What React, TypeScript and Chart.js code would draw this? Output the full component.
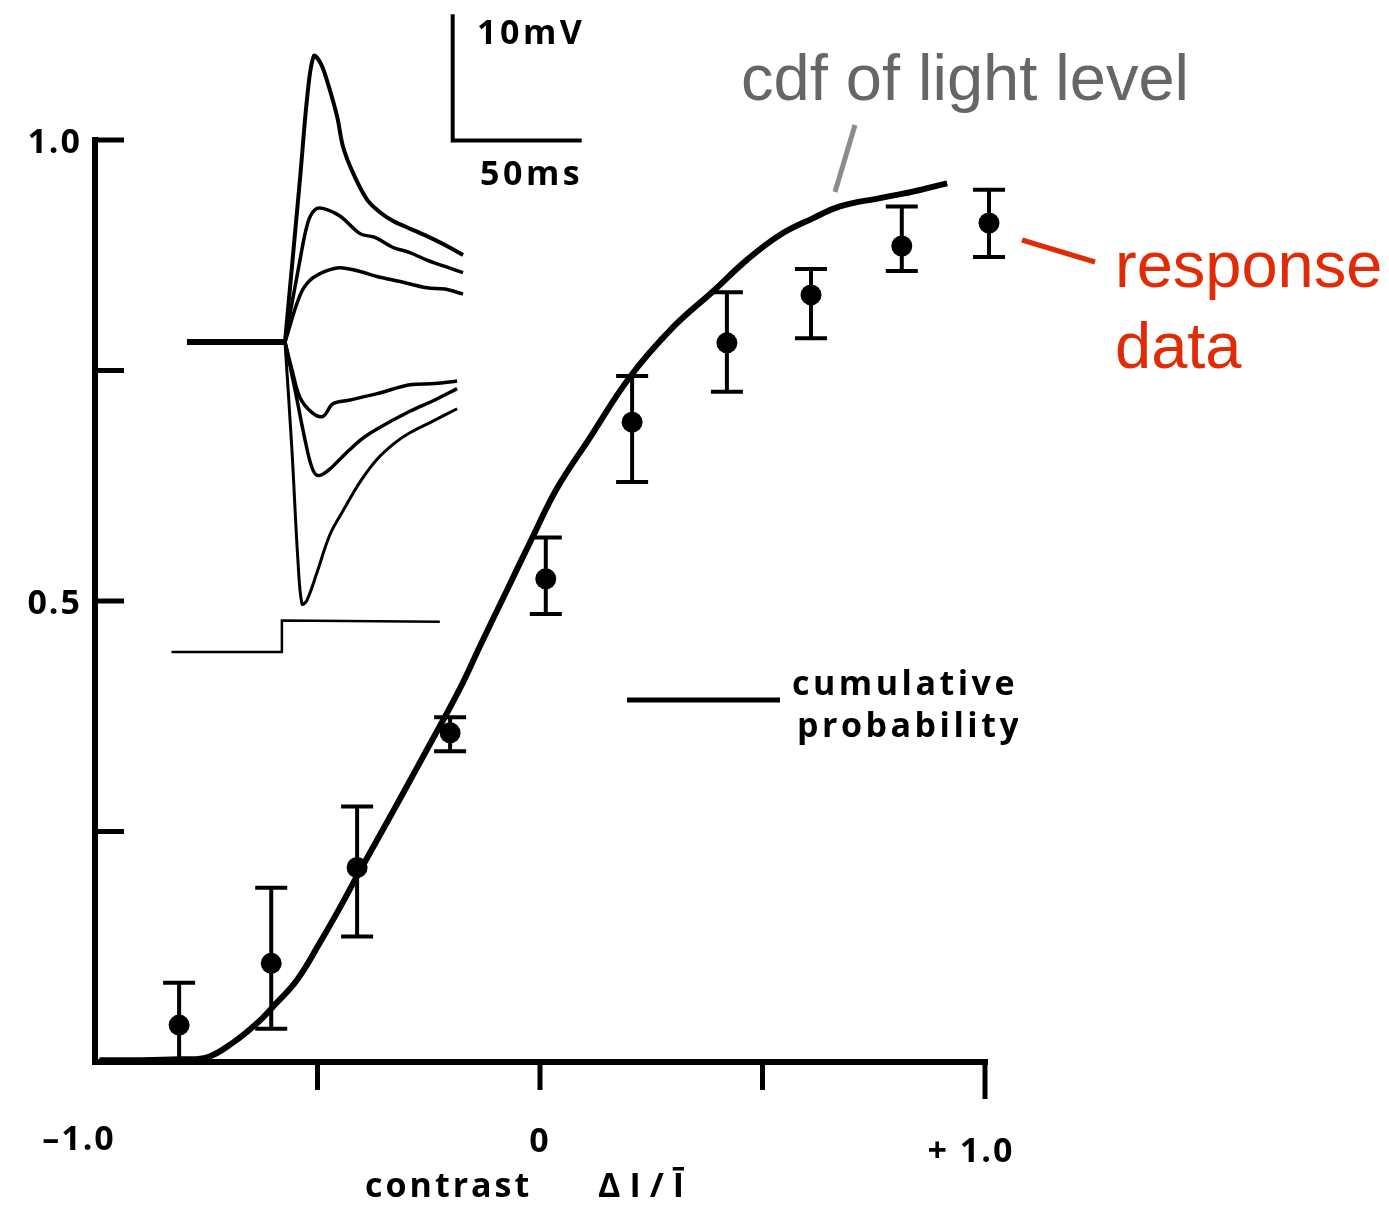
import React, { useEffect, useRef } from "react";
import { Chart, registerables } from "chart.js";

Chart.register(...registerables);

// ---- main curve: cumulative probability of contrast (cdf of light level)
const cdfX = [-0.99, -0.899, -0.809, -0.748, -0.69, -0.636, -0.6, -0.546, -0.494, -0.449, -0.404, -0.33, -0.263, -0.18, -0.135, -0.074, -0.016, 0.038, 0.112, 0.202, 0.299, 0.389, 0.465, 0.539, 0.613, 0.674, 0.764, 0.838, 0.915];
const cdfY = [0.002, 0.002, 0.003, 0.005, 0.021, 0.042, 0.06, 0.089, 0.13, 0.168, 0.208, 0.272, 0.331, 0.405, 0.451, 0.512, 0.57, 0.622, 0.677, 0.743, 0.797, 0.836, 0.87, 0.897, 0.915, 0.928, 0.937, 0.944, 0.953];

// ---- response data (mean with error bars)
const respX = [-0.811, -0.604, -0.411, -0.202, 0.013, 0.207, 0.42, 0.609, 0.813, 1.009];
const respY = [0.04, 0.107, 0.211, 0.357, 0.524, 0.694, 0.78, 0.832, 0.885, 0.91];
const respHi = [0.086, 0.189, 0.277, 0.374, 0.569, 0.744, 0.835, 0.86, 0.928, 0.946];
const respLo = [0.0, 0.036, 0.136, 0.337, 0.486, 0.629, 0.727, 0.785, 0.858, 0.873];

// ---- axis ticks
const xTickValues = [-0.5, 0, 0.5, 1.0];
const yTickValues = [0.25, 0.5, 0.75, 1.0];
const xLabelValues = [-1, 0, 1];
const xLabels = ["\u20131.0", "0", "+ 1.0"];
const yLabelValues = [0.5, 1.0];
const yLabels = ["0.5", "1.0"];

// ---- inset: membrane potential traces (time ms, potential mV)
const baseT = [-38, 0];
const baseV = [0, 0];
const trace1T = [0, 5.8, 8.9, 11.2, 13.6, 15.9, 20.2, 22.5, 26.4, 31.8, 36.8, 41.9, 48.4, 55.0, 62.0, 69.0];
const trace1V = [0, 12.9, 20.0, 22.7, 22.2, 21.0, 17.9, 15.5, 13.4, 11.3, 10.3, 9.6, 9.0, 8.4, 7.7, 6.9];
const trace2T = [0, 5.8, 8.9, 11.6, 14.7, 21.3, 29.1, 34.9, 41.9, 48.4, 55.0, 62.0, 69.0];
const trace2V = [0, 6.5, 9.5, 10.5, 10.6, 10.0, 8.6, 8.3, 7.5, 7.1, 6.5, 6.0, 5.5];
const trace3T = [0, 5.8, 9.7, 15.5, 21.3, 29.1, 35.7, 44.6, 55.0, 62.0, 69.0];
const trace3V = [0, 3.7, 4.9, 5.6, 5.9, 5.6, 5.2, 4.8, 4.3, 4.2, 3.8];
const trace4T = [0, 2.7, 5.8, 10.5, 14.7, 18.6, 25.2, 35.7, 48.4, 58.1, 66.7];
const trace4V = [0, -2.2, -4.4, -5.6, -5.9, -4.9, -4.6, -4.1, -3.4, -3.3, -3.1];
const trace5T = [0, 3.9, 7.8, 10.5, 12.8, 16.7, 21.3, 29.1, 35.7, 48.4, 58.1, 66.7];
const trace5V = [0, -3.8, -7.8, -10.0, -10.6, -10.2, -9.3, -7.8, -6.9, -5.5, -4.6, -3.7];
const trace6T = [0, 2.7, 5.0, 6.6, 8.5, 12.4, 17.4, 22.5, 29.1, 35.7, 42.6, 48.4, 58.1, 66.7];
const trace6V = [0, -8.6, -17.3, -20.8, -20.5, -18.3, -15.3, -13.4, -11.1, -9.3, -8.0, -7.2, -6.2, -5.3];
const stimT = [-44, -1.2, -1.2, 60];
const stimV = [-24.6, -24.6, -22.1, -22.2];
const barT = [65, 65, 115];
const barV = [26, 16, 16];

const zip = (xs: number[], ys: number[]) => xs.map((x, i) => ({ x, y: ys[i] }));

const FUT = "bold 34px 'Open Sans'";

const customPlugin = {
  id: "custom",
  beforeDatasetsDraw(chart: any) {
    const ctx = chart.ctx;
    const xs = chart.scales.x;
    const ys = chart.scales.y;
    const x0 = xs.getPixelForValue(-1);
    const x1 = xs.getPixelForValue(1);
    const y0 = ys.getPixelForValue(0);
    const y1 = ys.getPixelForValue(1);
    ctx.save();
    ctx.strokeStyle = "#000";
    ctx.lineCap = "butt";
    ctx.lineWidth = 6;
    ctx.beginPath();
    ctx.moveTo(x0, y1 - 3);
    ctx.lineTo(x0, y0);
    ctx.lineTo(x1 + 3, y0);
    ctx.stroke();
    ctx.lineWidth = 5;
    yTickValues.forEach((v) => {
      const y = ys.getPixelForValue(v);
      ctx.beginPath();
      ctx.moveTo(x0, y);
      ctx.lineTo(x0 + 29, y);
      ctx.stroke();
    });
    xTickValues.forEach((v) => {
      const x = xs.getPixelForValue(v);
      ctx.beginPath();
      ctx.moveTo(x, y0);
      ctx.lineTo(x, y0 + (v === 1 ? 37 : 28));
      ctx.stroke();
    });
    // tick labels
    ctx.fillStyle = "#000";
    ctx.font = FUT;
    (ctx as any).letterSpacing = "2px";
    ctx.textBaseline = "alphabetic";
    ctx.textAlign = "right";
    yLabelValues.forEach((v, i) => {
      ctx.fillText(yLabels[i], x0 - 13, ys.getPixelForValue(v) + 13);
    });
    ctx.textAlign = "center";
    const dx = [-16, 0, -14];
    const dy = [88, 90, 100];
    xLabelValues.forEach((v, i) => {
      ctx.fillText(xLabels[i], xs.getPixelForValue(v) + dx[i], y0 + dy[i]);
    });
    ctx.textAlign = "left";
    (ctx as any).letterSpacing = "3px";
    ctx.fillText("contrast", 365, 1197);
    (ctx as any).letterSpacing = "9px";
    ctx.fillText("\u0394I/\u012A", 598, 1197);
    ctx.restore();
  },
  afterDatasetsDraw(chart: any) {
    const ctx = chart.ctx;
    const xs = chart.scales.x;
    const ys = chart.scales.y;
    ctx.save();
    // error bars
    ctx.strokeStyle = "#000";
    ctx.lineWidth = 4;
    respX.forEach((xv, i) => {
      const x = xs.getPixelForValue(xv);
      const yh = ys.getPixelForValue(respHi[i]);
      const yl = ys.getPixelForValue(respLo[i]);
      ctx.beginPath();
      ctx.moveTo(x, yh);
      ctx.lineTo(x, yl);
      ctx.moveTo(x - 16, yh);
      ctx.lineTo(x + 16, yh);
      ctx.moveTo(x - 16, yl);
      ctx.lineTo(x + 16, yl);
      ctx.stroke();
    });
    // legend sample line + text
    ctx.lineWidth = 5;
    ctx.beginPath();
    ctx.moveTo(627, 700);
    ctx.lineTo(780, 700);
    ctx.stroke();
    ctx.fillStyle = "#000";
    ctx.font = FUT;
    (ctx as any).letterSpacing = "3.5px";
    ctx.textAlign = "left";
    ctx.textBaseline = "alphabetic";
    ctx.save();
    ctx.beginPath();
    ctx.rect(600, 640, 418, 130);
    ctx.clip();
    ctx.fillText("cumulative", 792, 695);
    ctx.fillText("probability", 797, 737);
    ctx.restore();
    // scale bar labels
    ctx.fillText("10mV", 477, 44);
    ctx.fillText("50ms", 480, 185);
    // annotations
    (ctx as any).letterSpacing = "0px";
    ctx.strokeStyle = "#8c8c8c";
    ctx.lineWidth = 5;
    ctx.beginPath();
    ctx.moveTo(855, 125);
    ctx.lineTo(835, 192);
    ctx.stroke();
    ctx.strokeStyle = "#e12a06";
    ctx.beginPath();
    ctx.moveTo(1022, 240);
    ctx.lineTo(1095, 262);
    ctx.stroke();
    ctx.font = "65px 'Liberation Sans'";
    ctx.fillStyle = "#666666";
    ctx.fillText("cdf of light level", 741, 100);
    ctx.fillStyle = "#e12a06";
    ctx.fillText("response", 1115, 287);
    ctx.fillText("data", 1115, 368);
    ctx.restore();
  },
};

export default function App() {
  const ref = useRef<HTMLCanvasElement | null>(null);
  useEffect(() => {
    if (!ref.current) return;
    const traceDs = (t: number[], v: number[], w: number) => ({
      type: "line" as const,
      data: zip(t, v),
      xAxisID: "x2",
      yAxisID: "y2",
      borderColor: "#000",
      borderWidth: w,
      pointRadius: 0,
      tension: 0.35,
      clip: false as any,
      fill: false,
    });
    const chart = new Chart(ref.current, {
      type: "line",
      data: {
        datasets: [
          {
            label: "cumulative probability",
            data: zip(cdfX, cdfY),
            xAxisID: "x",
            yAxisID: "y",
            borderColor: "#000",
            borderWidth: 6,
            pointRadius: 0,
            tension: 0.4,
            clip: false as any,
            fill: false,
          },
          {
            label: "response data",
            data: zip(respX, respY),
            xAxisID: "x",
            yAxisID: "y",
            showLine: false,
            pointRadius: 10.5,
            pointBackgroundColor: "#000",
            pointBorderWidth: 0,
            borderColor: "#000",
            clip: false as any,
          },
          traceDs(baseT, baseV, 6),
          traceDs(trace1T, trace1V, 4),
          traceDs(trace2T, trace2V, 3.5),
          traceDs(trace3T, trace3V, 3.5),
          traceDs(trace4T, trace4V, 3.5),
          traceDs(trace5T, trace5V, 3.5),
          traceDs(trace6T, trace6V, 3),
          { ...traceDs(stimT, stimV, 2.5), tension: 0 },
          { ...traceDs(barT, barV, 4), tension: 0 },
        ] as any,
      },
      options: {
        animation: false,
        responsive: false,
        maintainAspectRatio: false,
        layout: { padding: { left: 95, top: 140, right: 404, bottom: 145 } },
        plugins: { legend: { display: false }, tooltip: { enabled: false } },
        scales: {
          x: { type: "linear", min: -1, max: 1, display: false },
          y: { type: "linear", min: 0, max: 1, display: false },
          x2: { type: "linear", axis: "x", min: -73.64, max: 271.32, display: false },
          y2: { type: "linear", axis: "y", min: -57.14, max: 16.03, display: false },
        },
      } as any,
      plugins: [customPlugin],
    });
    return () => chart.destroy();
  }, []);
  return (
    <div style={{ position: "absolute", left: 0, top: 0, width: 1389, height: 1207, background: "#fff" }}>
      <canvas ref={ref} width={1389} height={1207} style={{ width: 1389, height: 1207 }} />
    </div>
  );
}
